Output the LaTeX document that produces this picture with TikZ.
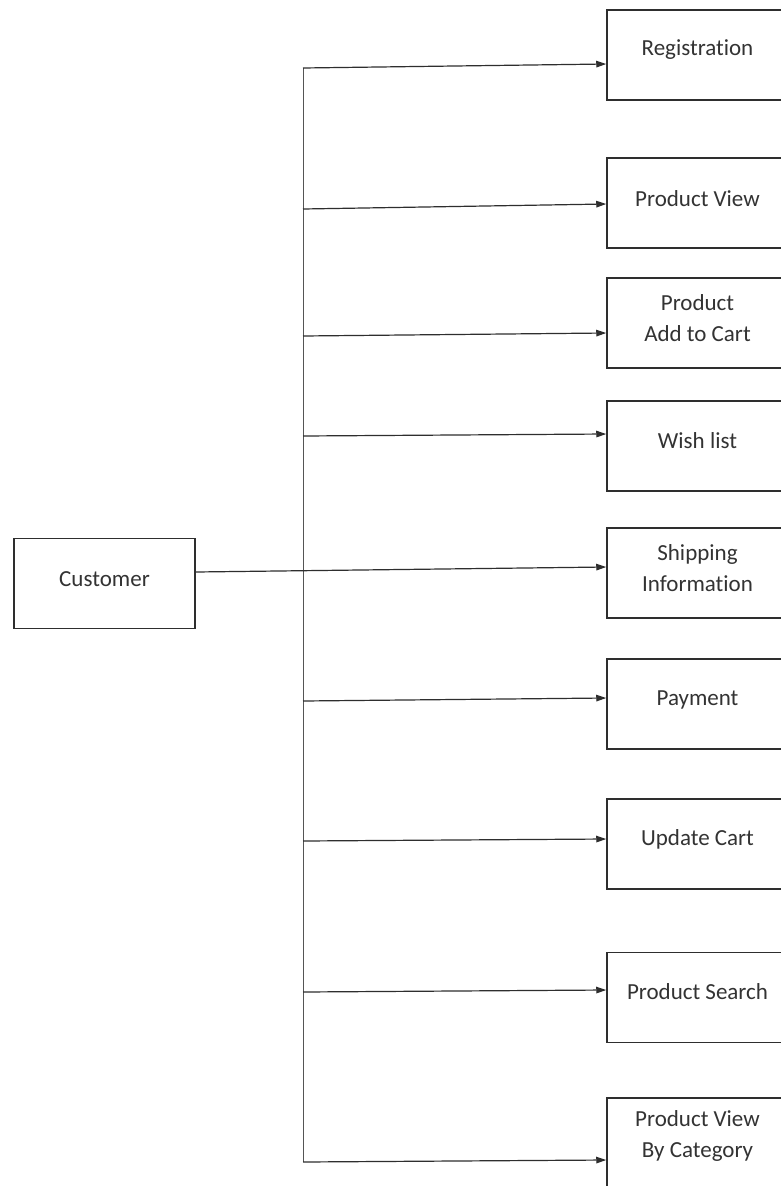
\documentclass[tikz,border=0pt]{standalone}
\usepackage{fontspec}
\setmainfont{Carlito}[Ligatures={NoCommon}]
\usetikzlibrary{arrows.meta}
\definecolor{ink}{HTML}{2E2E2E}
\definecolor{trunk}{HTML}{555555}
\definecolor{txt}{HTML}{333333}
\tikzset{
  box/.style={draw=ink, line width=1.5pt, minimum width=181pt, minimum height=90pt, inner sep=0pt},
  lbl/.style={text=txt, font=\fontsize{23}{31}\selectfont, align=center, inner sep=0pt},
  conn/.style={draw=ink, line width=1.2pt},
  arr/.style={conn, -{Triangle[length=10pt,width=6.5pt]}}
}
\begin{document}
\begin{tikzpicture}[x=1pt, y=-1pt]
\useasboundingbox (0,0) rectangle (781,1186);
\clip (0,0) rectangle (781,1186);
\fill[white] (0,0) rectangle (781,1186);

% customer box on the left
\node[box] (cust) at (104.5,583.5) {};
\node[lbl] (custT) at (104.5,579) {Customer};

% use-case boxes on the right
\node[box] (b1) at (697.5,55)   {};
\node[box] (b2) at (697.5,203)  {};
\node[box] (b3) at (697.5,323)  {};
\node[box] (b4) at (697.5,446)  {};
\node[box] (b5) at (697.5,573)  {};
\node[box] (b6) at (697.5,704)  {};
\node[box] (b7) at (697.5,844)  {};
\node[box] (b8) at (697.5,997.5){};
\node[box] (b9) at (697.5,1143) {};

\node[lbl] (t1) at (697.5,50)   {Registration};
\node[lbl] (t2) at (697.5,199)  {Product View};
\node[lbl] (t3) at (697.5,318)  {Product\\Add to Cart};
\node[lbl] (t4) at (697.5,441)  {Wish list};
\node[lbl] (t5) at (697.5,568)  {Shipping\\Information};
\node[lbl] (t6) at (697.5,700)  {Payment};
\node[lbl] (t7) at (697.5,839)  {Update Cart};
\node[lbl] (t8) at (697.5,992)  {Product Search};
\node[lbl] (t9) at (697.5,1136) {Product View\\By Category};

% branch points on the vertical trunk
\coordinate (j1) at (303,68);
\coordinate (j2) at (303,209);
\coordinate (j3) at (303,336);
\coordinate (j4) at (303,436);
\coordinate (j6) at (303,701);
\coordinate (j7) at (303,841);
\coordinate (j8) at (303,992);
\coordinate (j9) at (303,1162);

% vertical trunk
\draw[draw=trunk, line width=1pt] (j1) -- (j9);

% arrows to the boxes
\draw[arr] (j1) -- (b1.west |- 0,64);
\draw[arr] (j2) -- (b2.west |- 0,204);
\draw[arr] (j3) -- (b3.west |- 0,333);
\draw[arr] (j4) -- (b4.west |- 0,434);
\draw[arr] (cust.east |- 0,572) -- (b5.west |- 0,567);
\draw[arr] (j6) -- (b6.west |- 0,698);
\draw[arr] (j7) -- (b7.west |- 0,839);
\draw[arr] (j8) -- (b8.west |- 0,990);
\draw[arr] (j9) -- (b9.west |- 0,1160);
\end{tikzpicture}
\end{document}
